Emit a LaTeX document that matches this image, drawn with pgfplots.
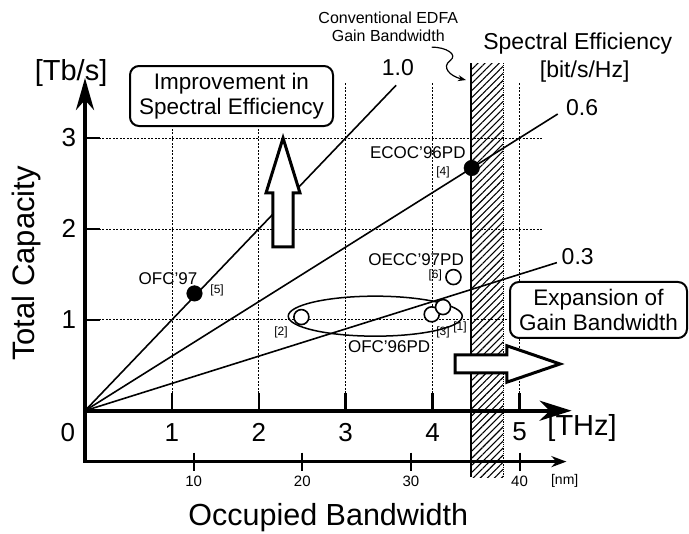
\documentclass[border=0pt]{standalone}
\usepackage{fontspec}
\setmainfont{Liberation Sans}
\usepackage{pgfplots}
\pgfplotsset{compat=1.18}
\usetikzlibrary{arrows.meta,patterns.meta}
\newcommand{\fs}[2]{\fontsize{#1bp}{#2bp}\selectfont}
\begin{document}
\begin{tikzpicture}
\begin{axis}[hide axis, scale only axis, width=689bp, height=534bp,
  xmin=-0.9781, xmax=6.9505, ymin=-1.3564, ymax=4.5182, clip=false]
% EDFA band
\fill[pattern={Lines[angle=45,distance=5bp,line width=1.1bp]}] (axis cs:4.44,-0.73) rectangle (axis cs:4.81,3.82);
\draw[line width=2.5bp] (axis cs:4.44,-0.73) -- (axis cs:4.44,3.82);
\draw[line width=0.8bp, densely dotted] (axis cs:4.81,-0.73) -- (axis cs:4.81,3.82);
% grid
\draw[line width=0.8bp, dash pattern=on 2bp off 1.5bp] (axis cs:1,0) -- (axis cs:1,3.6);
\draw[line width=0.8bp, dash pattern=on 2bp off 1.5bp] (axis cs:2,0) -- (axis cs:2,3.6);
\draw[line width=0.8bp, dash pattern=on 2bp off 1.5bp] (axis cs:3,0) -- (axis cs:3,3.6);
\draw[line width=0.8bp, dash pattern=on 2bp off 1.5bp] (axis cs:4,0) -- (axis cs:4,3.6);
\draw[line width=0.8bp, dash pattern=on 2bp off 1.5bp] (axis cs:5,0) -- (axis cs:5,3.6);
\draw[line width=0.8bp, dash pattern=on 2bp off 1.5bp] (axis cs:0,1) -- (axis cs:5.27,1);
\draw[line width=0.8bp, dash pattern=on 2bp off 1.5bp] (axis cs:0,2) -- (axis cs:5.27,2);
\draw[line width=0.8bp, dash pattern=on 2bp off 1.5bp] (axis cs:0,3) -- (axis cs:5.27,3);
% ticks
\draw[line width=2.5bp] (axis cs:1,0) -- (axis cs:1,0.2);
\draw[line width=2.5bp] (axis cs:2,0) -- (axis cs:2,0.2);
\draw[line width=2.5bp] (axis cs:3,0) -- (axis cs:3,0.2);
\draw[line width=2.5bp] (axis cs:4,0) -- (axis cs:4,0.2);
\draw[line width=2.5bp] (axis cs:5,0) -- (axis cs:5,0.2);
\draw[line width=2.5bp] (axis cs:0,1) -- (axis cs:0.17,1);
\draw[line width=2.5bp] (axis cs:0,2) -- (axis cs:0.17,2);
\draw[line width=2.5bp] (axis cs:0,3) -- (axis cs:0.17,3);
\draw[line width=2bp] (axis cs:1.25,-0.46) -- (axis cs:1.25,-0.66);
\draw[line width=2bp] (axis cs:2.5,-0.46) -- (axis cs:2.5,-0.66);
\draw[line width=2bp] (axis cs:3.75,-0.46) -- (axis cs:3.75,-0.66);
\draw[line width=2bp] (axis cs:5.0,-0.46) -- (axis cs:5.0,-0.66);
% axes
\draw[line width=2.5bp, -{Stealth[length=15bp,width=11bp]}] (axis cs:0,-0.56) -- (axis cs:5.54,-0.56);
\draw[line width=4bp, -{Stealth[length=32bp,width=20bp,inset=10bp]}] (axis cs:0,0) -- (axis cs:5.6,0);
\draw[line width=4bp, -{Stealth[length=32bp,width=18bp,inset=10bp]}] (axis cs:0,-0.575) -- (axis cs:0,3.66);
% spectral-efficiency lines
\addplot[black, line width=1.6bp] coordinates {(0,0) (3.58,3.58)};
\addplot[black, line width=1.6bp] coordinates {(0,0) (5.44,3.264)};
\addplot[black, line width=1.6bp] coordinates {(0,0) (5.43,1.629)};
% ellipse around OFC'96PD
\draw[line width=1.5bp] (axis cs:3.34,1.04) ellipse [x radius=87bp, y radius=20bp];
% block arrows
\draw[line width=3bp, fill=white, line join=miter] (axis cs:2.163,1.801) -- (axis cs:2.163,2.395) -- (axis cs:2.083,2.395) -- (axis cs:2.279,2.999) -- (axis cs:2.474,2.395) -- (axis cs:2.394,2.395) -- (axis cs:2.394,1.801) -- cycle;
\draw[line width=3bp, fill=white, line join=miter] (axis cs:4.258,0.415) -- (axis cs:4.258,0.613) -- (axis cs:4.856,0.613) -- (axis cs:4.856,0.714) -- (axis cs:5.466,0.514) -- (axis cs:4.856,0.314) -- (axis cs:4.856,0.415) -- cycle;
% boxes
\node[draw, line width=2bp, rounded corners=9bp, fill=white, minimum width=203bp, minimum height=60bp, inner sep=0pt, align=center, font=\fs{22.5}{25}] at (axis cs:1.686,3.462) {Improvement in\\Spectral Efficiency};
\node[draw, line width=2bp, rounded corners=9bp, fill=white, minimum width=177bp, minimum height=56bp, inner sep=0pt, align=center, font=\fs{22.5}{25}] at (axis cs:5.909,1.108) {Expansion of\\Gain Bandwidth};
% curved pointer
\draw[line width=1.2bp, -{Stealth[length=8bp,width=6bp]}] (axis cs:3.99,4.0) .. controls (axis cs:4.15,4.0) and (axis cs:4.3,3.92) .. (axis cs:4.2,3.85) .. controls (axis cs:4.1,3.78) and (axis cs:4.2,3.68) .. (axis cs:4.384,3.638);
% data points
\addplot[only marks, mark=*, mark size=7.8bp, black] coordinates {(1.26,1.29) (4.45,2.67)};
\addplot[only marks, mark=*, mark size=7.5bp, mark options={draw=black, fill=white, line width=1.6bp}] coordinates {(2.49,1.03) (3.99,1.06) (4.12,1.14) (4.24,1.47)};
% tick labels
\node[font=\fs{26}{30}] at (axis cs:-0.196,-0.235) {0};
\node[font=\fs{26}{30}] at (axis cs:1,-0.235) {1};
\node[font=\fs{26}{30}] at (axis cs:2,-0.235) {2};
\node[font=\fs{26}{30}] at (axis cs:3,-0.235) {3};
\node[font=\fs{26}{30}] at (axis cs:4,-0.235) {4};
\node[font=\fs{26}{30}] at (axis cs:5,-0.235) {5};
\node[font=\fs{26}{30}, anchor=east, inner sep=0pt] at (axis cs:-0.1,1) {1};
\node[font=\fs{26}{30}, anchor=east, inner sep=0pt] at (axis cs:-0.1,2) {2};
\node[font=\fs{26}{30}, anchor=east, inner sep=0pt] at (axis cs:-0.1,3) {3};
\node[font=\fs{29}{32}] at (axis cs:5.72,-0.19) {[THz]};
\node[font=\fs{29}{32}] at (axis cs:-0.16,3.72) {[Tb/s]};
\node[font=\fs{15}{17}] at (axis cs:1.25,-0.78) {10};
\node[font=\fs{15}{17}] at (axis cs:2.5,-0.78) {20};
\node[font=\fs{15}{17}] at (axis cs:3.75,-0.78) {30};
\node[font=\fs{15}{17}] at (axis cs:5.0,-0.78) {40};
\node[font=\fs{14}{16}] at (axis cs:5.52,-0.77) {[nm]};
\node[font=\fs{31}{34}, rotate=90] at (axis cs:-0.67,1.62) {Total Capacity};
\node[font=\fs{30.5}{34}] at (axis cs:2.8,-1.18) {Occupied Bandwidth};
% line labels
\node[font=\fs{23}{26}] at (axis cs:3.60,3.77) {1.0};
\node[font=\fs{23}{26}] at (axis cs:5.72,3.33) {0.6};
\node[font=\fs{23}{26}] at (axis cs:5.67,1.69) {0.3};
\node[font=\fs{23}{26}] at (axis cs:5.67,4.04) {Spectral Efficiency};
\node[font=\fs{23}{26}] at (axis cs:5.75,3.73) {[bit/s/Hz]};
\node[font=\fs{16}{18}] at (axis cs:3.49,4.32) {Conventional EDFA};
\node[font=\fs{16}{18}] at (axis cs:3.49,4.13) {Gain Bandwidth};
% point labels
\node[font=\fs{17}{19}] at (axis cs:0.955,1.45) {OFC'97};
\node[font=\fs{12}{14}] at (axis cs:1.52,1.325) {[5]};
\node[font=\fs{12}{14}] at (axis cs:2.255,0.866) {[2]};
\node[font=\fs{17}{19}] at (axis cs:3.83,2.835) {ECOC'96PD};
\node[font=\fs{12}{14}] at (axis cs:4.12,2.624) {[4]};
\node[font=\fs{17}{19}] at (axis cs:3.81,1.658) {OECC'97PD};
\node[font=\fs{12}{14}] at (axis cs:4.03,1.493) {[6]};
\node[font=\fs{17}{19}] at (axis cs:3.5,0.70) {OFC'96PD};
\node[font=\fs{12}{14}] at (axis cs:4.12,0.866) {[3]};
\node[font=\fs{12}{14}] at (axis cs:4.315,0.92) {[1]};
\end{axis}
\pgfresetboundingbox
\useasboundingbox (0,0) rectangle (689bp,534bp);
\end{tikzpicture}
\end{document}
